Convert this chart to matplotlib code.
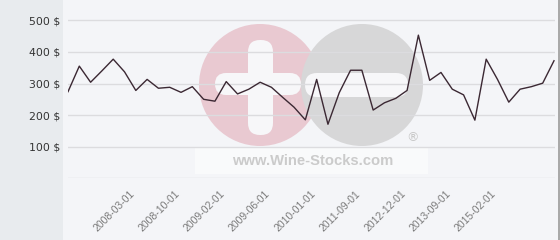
import numpy as np
import matplotlib
matplotlib.use("Agg")
import matplotlib.pyplot as plt
from matplotlib.patches import Rectangle, Circle, FancyBboxPatch
from matplotlib.colors import LinearSegmentedColormap
from matplotlib.transforms import ScaledTranslation

# ---- data ----
prices = [274, 355, 304, 340, 377, 337, 278, 313, 285, 288, 272, 290,
          250, 244, 306, 267, 282, 304, 288, 256, 225, 185, 313, 171,
          271, 342, 342, 216, 239, 253, 278, 453, 310, 335, 282, 264,
          184, 377, 313, 241, 282, 290, 301, 372]
tick_labels = ["2008-03-01", "2008-10-01", "2009-02-01", "2009-06-01",
               "2010-01-01", "2011-09-01", "2012-12-01", "2013-09-01",
               "2015-02-01"]
first_labeled_point = 6
label_step = 4
y_ticks = [100, 200, 300, 400, 500]

W, H = 560, 240
fig = plt.figure(figsize=(W / 100, H / 100), dpi=100)

# background / watermark layer in pixel coordinates
bg = fig.add_axes([0, 0, 1, 1], zorder=0)
bg.set_xlim(0, W)
bg.set_ylim(H, 0)
bg.axis("off")
bg.add_patch(Rectangle((0, 0), W, H, facecolor="#f4f5f8", edgecolor="none"))
grad = np.linspace(0, 1, 100).reshape(-1, 1)
cmap = LinearSegmentedColormap.from_list("g", ["#f4f5f8", "#f6f7f9", "#fdfdfe"])
bg.imshow(grad, cmap=cmap, extent=(63, 559, H, 0), aspect="auto", zorder=0.5)
bg.add_patch(Rectangle((0, 0), 63, H, facecolor="#e8ebee", edgecolor="none", zorder=1))
bg.add_patch(Rectangle((558, 0), 2, H, facecolor="#a9a9a9", edgecolor="none", zorder=1))

# watermark
bg.add_patch(Circle((260, 85), 61, facecolor="#e9c9d1", edgecolor="none", zorder=2))
bg.add_patch(Circle((362, 85), 61, facecolor="#d7d7d8", edgecolor="none", zorder=2.1))
white = "#f7f7f9"
bg.add_patch(FancyBboxPatch((248, 40), 25, 95, boxstyle="round,pad=0,rounding_size=12",
                            facecolor=white, edgecolor="none", zorder=3))
bg.add_patch(FancyBboxPatch((215, 73), 86, 22, boxstyle="round,pad=0,rounding_size=11",
                            facecolor=white, edgecolor="none", zorder=3))
bg.add_patch(FancyBboxPatch((305, 73), 103, 24, boxstyle="round,pad=0,rounding_size=12",
                            facecolor=white, edgecolor="none", zorder=3))
bg.add_patch(Rectangle((195, 148), 233, 26, facecolor="white", alpha=0.5,
                       edgecolor="none", zorder=3))
bg.text(313, 161, "www.Wine-Stocks.com", family="Liberation Sans", weight="bold",
        fontsize=10.6, color="#cbcbcb", ha="center", va="center", zorder=4)
bg.text(413, 138, "®", family="DejaVu Sans", fontsize=9, color="#c8c8c8",
        ha="center", va="center", zorder=4)

# main chart
x0, x1 = 68, 555
yb, yt = 178.3, 4
val_top = (yb - yt) / 0.316
ax = fig.add_axes([x0 / W, (H - yb) / H, (x1 - x0) / W, (yb - yt) / H], zorder=1)
ax.patch.set_alpha(0)
n = len(prices)
xs = np.arange(n)
ax.set_xlim(0, (n - 1) * (x1 - x0) / (554 - x0))
ax.set_ylim(0, val_top)

for v in [0] + y_ticks:
    ax.axhline(v, color="#dcdcdf", lw=1, zorder=1)
ax.plot(xs, prices, color="#3b2833", lw=1.0, zorder=3)

for s in ax.spines.values():
    s.set_visible(False)
ax.set_yticks(y_ticks)
ax.set_yticklabels([f"{v} $" for v in y_ticks], family="DejaVu Sans",
                   fontsize=7.8, color="#333333")
ax.tick_params(axis="y", length=0, pad=5.5)
pos = list(range(first_labeled_point, first_labeled_point + label_step * len(tick_labels), label_step))
ax.set_xticks(pos)
ax.set_xticklabels(tick_labels, rotation=45, ha="right", va="center",
                   rotation_mode="anchor", family="Liberation Sans",
                   fontsize=7.5, color="#7a7a7a")
ax.tick_params(axis="x", length=0, pad=10)
shift = ScaledTranslation(-3 / 100, 0, fig.dpi_scale_trans)
for lab in ax.get_xticklabels():
    lab.set_transform(lab.get_transform() + shift)

fig.savefig("out.png", dpi=100)
